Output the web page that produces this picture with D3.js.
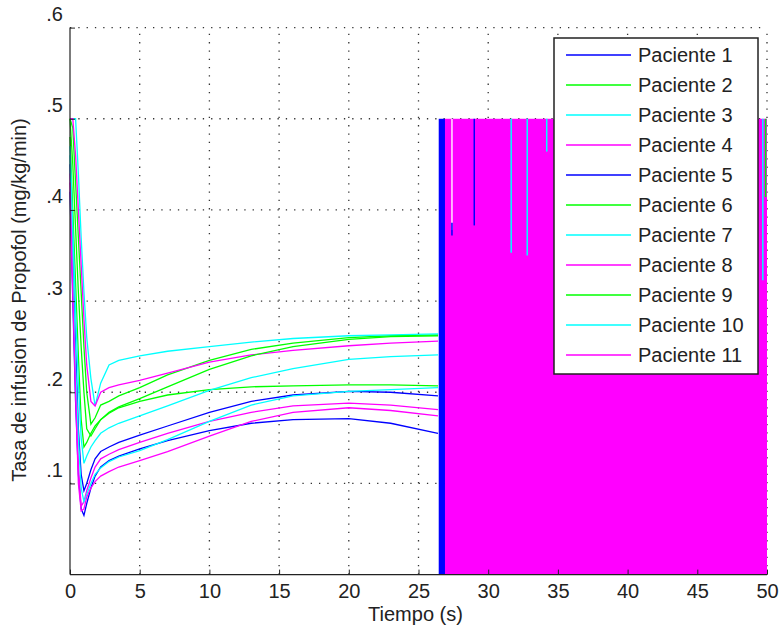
<!DOCTYPE html>
<html>
<head>
<meta charset="utf-8">
<script src="https://cdn.jsdelivr.net/npm/d3@7"></script>
<style>
    body { margin: 0; background: #fff; }
    #chart-area { width: 780px; height: 633px; }
    text { font-family: "Liberation Sans", Arial, sans-serif; }
</style>
</head>
<body>
<div id="chart-area"></div>
<script>
// sample times (s), shared by every patient
const tiempo = [0, 0.2, 0.4, 0.6, 0.8, 1.0, 1.2, 1.5, 1.8, 2.2, 2.8, 3.5, 5, 7, 10, 13, 16, 20, 23, 26.4];

// infusion rate (mg/kg/min)
const paciente1 = [0.45, 0.35, 0.25, 0.16, 0.11, 0.092, 0.10, 0.115, 0.127, 0.135, 0.140, 0.145, 0.153, 0.163, 0.178, 0.190, 0.197, 0.201, 0.200, 0.196];
const paciente2 = [0.50, 0.49, 0.43, 0.37, 0.31, 0.25, 0.20, 0.165, 0.172, 0.186, 0.190, 0.196, 0.205, 0.219, 0.235, 0.247, 0.254, 0.260, 0.262, 0.263];
const paciente3 = [0.50, 0.50, 0.50, 0.44, 0.37, 0.31, 0.26, 0.215, 0.185, 0.210, 0.230, 0.235, 0.240, 0.245, 0.250, 0.255, 0.259, 0.262, 0.263, 0.264];
const paciente4 = [0.50, 0.50, 0.46, 0.40, 0.34, 0.28, 0.23, 0.190, 0.185, 0.200, 0.205, 0.208, 0.213, 0.221, 0.233, 0.241, 0.246, 0.251, 0.254, 0.256];
const paciente5 = [0.42, 0.30, 0.19, 0.11, 0.072, 0.065, 0.078, 0.095, 0.108, 0.118, 0.125, 0.130, 0.138, 0.147, 0.158, 0.166, 0.170, 0.171, 0.166, 0.155];
const paciente6 = [0.48, 0.40, 0.32, 0.24, 0.17, 0.140, 0.145, 0.155, 0.163, 0.170, 0.177, 0.183, 0.190, 0.197, 0.203, 0.206, 0.207, 0.208, 0.208, 0.207];
const paciente7 = [0.47, 0.38, 0.29, 0.21, 0.15, 0.122, 0.130, 0.140, 0.147, 0.155, 0.161, 0.166, 0.174, 0.185, 0.202, 0.216, 0.226, 0.236, 0.239, 0.241];
const paciente8 = [0.44, 0.32, 0.21, 0.12, 0.075, 0.080, 0.092, 0.106, 0.118, 0.127, 0.132, 0.137, 0.145, 0.155, 0.168, 0.178, 0.185, 0.188, 0.186, 0.181];
const paciente9 = [0.50, 0.45, 0.38, 0.31, 0.25, 0.20, 0.160, 0.152, 0.160, 0.170, 0.178, 0.184, 0.193, 0.206, 0.225, 0.240, 0.250, 0.258, 0.261, 0.262];
const paciente10 = [0.46, 0.34, 0.23, 0.15, 0.095, 0.080, 0.088, 0.100, 0.110, 0.117, 0.124, 0.129, 0.136, 0.148, 0.168, 0.186, 0.196, 0.201, 0.203, 0.205];
const paciente11 = [0.43, 0.31, 0.20, 0.10, 0.070, 0.072, 0.085, 0.095, 0.102, 0.108, 0.113, 0.118, 0.125, 0.135, 0.152, 0.168, 0.178, 0.183, 0.180, 0.174];

const nombres = ["Paciente 1", "Paciente 2", "Paciente 3", "Paciente 4", "Paciente 5", "Paciente 6",
    "Paciente 7", "Paciente 8", "Paciente 9", "Paciente 10", "Paciente 11"];
const colores = ["#0000ff", "#00ff00", "#00ffff", "#ff00ff", "#0000ff", "#00ff00",
    "#00ffff", "#ff00ff", "#00ff00", "#00ffff", "#ff00ff"];

// chattering zone after ~26.5 s (signal switching between 0 and 0.5)
const bandas = [
    { desde: 26.45, hasta: 26.9, color: "#0000ff" },
    { desde: 26.9, hasta: 50, color: "#ff00ff" }
];
// spikes visible inside the chattering zone
const picos = [
    { t: 27.4, alto: 0.5, bajo: 0.378, color: "#ffe6ff" },
    { t: 27.4, alto: 0.386, bajo: 0.372, color: "#0000ff" },
    { t: 29.0, alto: 0.5, bajo: 0.383, color: "#0000ff" },
    { t: 31.65, alto: 0.5, bajo: 0.353, color: "#00ffff" },
    { t: 32.8, alto: 0.5, bajo: 0.350, color: "#00ffff" },
    { t: 34.2, alto: 0.5, bajo: 0.464, color: "#00ffff" },
    { t: 49.7, alto: 0.5, bajo: 0.323, color: "#00ffff" },
    { t: 49.9, alto: 0.5, bajo: 0.414, color: "#00ff00" }
];

const xTicks = [0, 5, 10, 15, 20, 25, 30, 35, 40, 45, 50];
const yTicks = [0.1, 0.2, 0.3, 0.4, 0.5, 0.6];

class InfusionChart {

    constructor(_parentElement) {
        this.parentElement = _parentElement;
        this.series = [paciente1, paciente2, paciente3, paciente4, paciente5, paciente6,
            paciente7, paciente8, paciente9, paciente10, paciente11].map((vals, i) => ({
            name: nombres[i],
            color: colores[i],
            values: vals.map((v, j) => ({ t: tiempo[j], v: v }))
        }));

        this.initVis();
    }

    initVis() {
        let vis = this;

        vis.margin = { top: 27.6, right: 13, bottom: 58.4, left: 70 };
        vis.width = 780 - vis.margin.left - vis.margin.right;
        vis.height = 633 - vis.margin.top - vis.margin.bottom;

        vis.svg = d3.select("#" + vis.parentElement).append("svg")
            .attr("width", 780)
            .attr("height", 633)
            .append("g")
            .attr("transform", "translate(" + vis.margin.left + "," + vis.margin.top + ")");

        vis.x = d3.scaleLinear().domain([0, 50]).range([0, vis.width]);
        vis.y = d3.scaleLinear().domain([0, 0.6]).range([vis.height, 0]);

        // dotted grid
        vis.svg.append("g").attr("class", "grid")
            .selectAll("line.gx")
            .data(xTicks.slice(1))
            .enter().append("line")
            .attr("x1", d => vis.x(d)).attr("x2", d => vis.x(d))
            .attr("y1", vis.height).attr("y2", 0);
        vis.svg.select(".grid")
            .selectAll("line.gy")
            .data(yTicks)
            .enter().append("line")
            .attr("x1", 0).attr("x2", vis.width)
            .attr("y1", d => vis.y(d)).attr("y2", d => vis.y(d));
        vis.svg.selectAll(".grid line")
            .attr("stroke", "#333")
            .attr("stroke-width", 1.3)
            .attr("stroke-dasharray", "1.3,7");

        vis.line = d3.line()
            .x(d => vis.x(d.t))
            .y(d => vis.y(d.v));

        vis.svg.selectAll(".paciente")
            .data(vis.series)
            .enter()
            .append("path")
            .attr("class", "paciente")
            .attr("d", d => vis.line(d.values))
            .attr("fill", "none")
            .attr("stroke", d => d.color)
            .attr("stroke-width", 1.3);

        vis.svg.selectAll(".banda")
            .data(bandas)
            .enter()
            .append("rect")
            .attr("class", "banda")
            .attr("x", d => vis.x(d.desde))
            .attr("width", d => vis.x(d.hasta) - vis.x(d.desde))
            .attr("y", vis.y(0.5))
            .attr("height", vis.y(0) - vis.y(0.5))
            .attr("fill", d => d.color);

        vis.svg.selectAll(".pico")
            .data(picos)
            .enter()
            .append("line")
            .attr("class", "pico")
            .attr("x1", d => vis.x(d.t)).attr("x2", d => vis.x(d.t))
            .attr("y1", d => vis.y(d.alto)).attr("y2", d => vis.y(d.bajo))
            .attr("stroke", d => d.color)
            .attr("stroke-width", 1.5);

        // axes, ticks pointing inward
        vis.xAxis = d3.axisBottom(vis.x)
            .tickValues(xTicks)
            .tickSize(-5)
            .tickPadding(9);
        vis.yAxis = d3.axisLeft(vis.y)
            .tickValues(yTicks)
            .tickSize(-5)
            .tickPadding(7)
            .tickFormat(d => d3.format(".1f")(d).replace(/^0/, ""));

        vis.svg.append("g")
            .attr("class", "x-axis")
            .attr("transform", "translate(0," + vis.height + ")")
            .call(vis.xAxis);
        vis.svg.append("g")
            .attr("class", "y-axis")
            .call(vis.yAxis);

        vis.svg.selectAll(".x-axis path, .y-axis path")
            .attr("stroke", "#222")
            .attr("stroke-width", 1.2)
            .attr("d", function () {
                return d3.select(this.parentNode).classed("x-axis")
                    ? "M0,0H" + vis.width
                    : "M0,0V" + vis.height;
            });
        vis.svg.selectAll(".x-axis line, .y-axis line")
            .attr("stroke", "#222");
        vis.svg.selectAll(".x-axis text, .y-axis text")
            .attr("fill", "#222")
            .style("font-size", "20px")
            .style("font-family", "'Liberation Sans', Arial, sans-serif");
        vis.svg.selectAll(".y-axis text")
            .attr("dy", "-0.35em");

        vis.svg.append("text")
            .attr("x", vis.width / 2 - 3)
            .attr("y", vis.height + 46)
            .attr("text-anchor", "middle")
            .attr("fill", "#222")
            .style("font-size", "20px")
            .text("Tiempo (s)");

        vis.svg.append("text")
            .attr("transform", "translate(" + (-44) + "," + (300 - vis.margin.top) + ") rotate(-90)")
            .attr("text-anchor", "middle")
            .attr("fill", "#222")
            .style("font-size", "20px")
            .text("Tasa de infusion de Propofol (mg/kg/min)");

        // legend
        vis.legend = vis.svg.append("g")
            .attr("class", "legend")
            .attr("transform", "translate(" + (554 - vis.margin.left) + "," + (38 - vis.margin.top) + ")");

        vis.legend.append("rect")
            .attr("width", 204)
            .attr("height", 336)
            .attr("fill", "#fff")
            .attr("stroke", "#222")
            .attr("stroke-width", 1.5);

        vis.legendRows = vis.legend.selectAll(".legend-row")
            .data(vis.series)
            .enter()
            .append("g")
            .attr("class", "legend-row")
            .attr("transform", (d, i) => "translate(0," + (17 + i * 30) + ")");

        vis.legendRows.append("line")
            .attr("x1", 12).attr("x2", 77)
            .attr("y1", 0).attr("y2", 0)
            .attr("stroke", d => d.color)
            .attr("stroke-width", 1.3);

        vis.legendRows.append("text")
            .attr("x", 84)
            .attr("y", 7)
            .attr("fill", "#222")
            .style("font-size", "20px")
            .text(d => d.name);
    }
}

new InfusionChart("chart-area");
</script>
</body>
</html>
